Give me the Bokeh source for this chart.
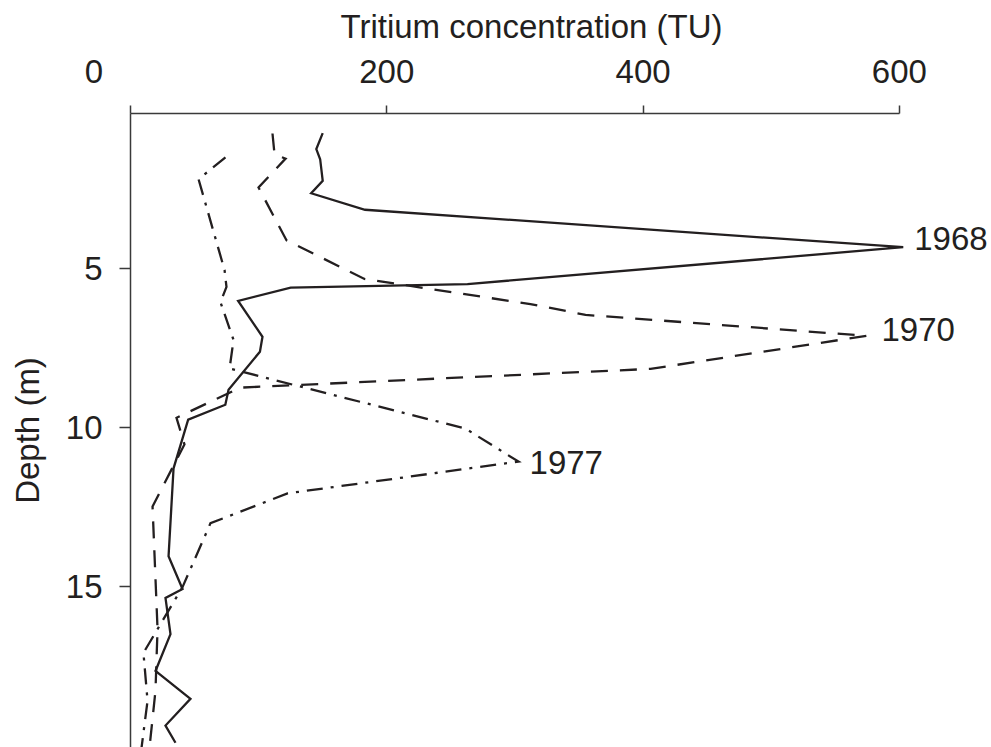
from bokeh.plotting import figure
from bokeh.models import Range1d, FixedTicker, Label, Title
from bokeh.embed import file_html
from bokeh.resources import INLINE

# ---- data ----
years = ["1968", "1970", "1977"]

tu_1968 = [150, 145, 148, 150, 141, 183, 603, 263, 125, 84, 103, 101, 76.5, 74, 45, 33.6,
           29.7, 40.6, 27.3, 31.2, 19.5, 46.8, 27.3, 35.1]
depth_1968 = [0.73, 1.23, 1.55, 2.23, 2.62, 3.14, 4.32, 5.48, 5.59, 6.01, 7.14, 7.61, 8.81, 9.28,
              9.75, 11.28, 14.05, 15.08, 15.36, 16.5, 17.66, 18.54, 19.38, 19.92]

tu_1970 = [110.8, 112.4, 121.0, 99.9, 121.7, 182.6, 312.1, 355.1, 574.3, 405.8, 85.8, 35.9,
           42.1, 17.2, 21.1, 19.5, 14.8]
depth_1970 = [0.74, 1.40, 1.53, 2.44, 4.10, 5.32, 6.11, 6.45, 7.11, 8.15, 8.74, 9.69,
              10.53, 12.48, 16.34, 18.28, 20.08]

tu_1977 = [74.1, 53.1, 73.4, 74.9, 70.2, 80.4, 77.3, 261.4, 302.8, 122.5, 62.4, 40.6, 10.1,
           13.3, 8.6]
depth_1977 = [1.49, 2.18, 5.04, 5.57, 6.05, 7.24, 8.14, 10.03, 11.07, 12.07, 13.01, 15.02,
              17.09, 18.60, 20.08]

x_ticks = [0, 200, 400, 600]
y_ticks = [5, 10, 15]
x_title = "Tritium concentration (TU)"
y_title = "Depth (m)"

FONT = "Liberation Sans"
INK = "#231f20"
FS = "33px"

p = figure(width=990, height=747, output_backend="svg", toolbar_location=None,
           x_range=Range1d(0, 671.1), y_range=Range1d(20.07, 0.11),
           x_axis_location="above",
           min_border_left=130, min_border_top=111, min_border_bottom=0, min_border_right=0)
p.outline_line_color = None
p.grid.visible = False
p.background_fill_color = "white"
p.border_fill_color = "white"

p.title = Title(text=x_title, align="left", offset=210, text_font=FONT,
                text_font_size=FS, text_font_style="normal", text_color=INK, standoff=10)

xa = p.xaxis[0]
xa.ticker = FixedTicker(ticks=x_ticks)
xa.bounds = (0, 600)
# the zero label sits left of the corner in the reference
xa.major_label_overrides = {0: "0" + "\u00a0" * 8}
ya = p.yaxis[0]
ya.ticker = FixedTicker(ticks=y_ticks)
ya.axis_label = y_title

for ax in (xa, ya):
    ax.axis_line_color = "#3a3a3a"
    ax.axis_line_width = 1.5
    ax.major_tick_line_color = "#3a3a3a"
    ax.major_tick_line_width = 1.5
    ax.major_tick_in = 0
    ax.minor_tick_line_color = None
    ax.major_label_text_font = FONT
    ax.major_label_text_font_size = FS
    ax.major_label_text_color = INK
    ax.axis_label_text_font = FONT
    ax.axis_label_text_font_size = FS
    ax.axis_label_text_font_style = "normal"
    ax.axis_label_text_color = INK

xa.major_tick_out = 8
xa.major_label_standoff = 16
ya.major_tick_out = 11
ya.major_label_standoff = 17
ya.axis_label_standoff = 17

p.line(tu_1968, depth_1968, line_color=INK, line_width=2.3, line_join="miter")
p.line(tu_1970, depth_1970, line_color=INK, line_width=2.3, line_dash="17 12", line_join="miter")
p.line(tu_1977, depth_1977, line_color=INK, line_width=2.3, line_dash="16 8 3 8", line_join="miter")

# year labels next to each peak
peaks = [(tu_1968[6], depth_1968[6], 11, 9),
         (tu_1970[8], depth_1970[8], 15, 6),
         (tu_1977[8], depth_1977[8], 11, -1)]
for yr, (px, py, dx, dy) in zip(years, peaks):
    p.add_layout(Label(x=px, y=py, text=yr, x_offset=dx, y_offset=dy,
                       text_align="left", text_baseline="middle",
                       text_font=FONT, text_font_size=FS, text_color=INK))

open("out.html", "w").write(file_html(p, INLINE))
